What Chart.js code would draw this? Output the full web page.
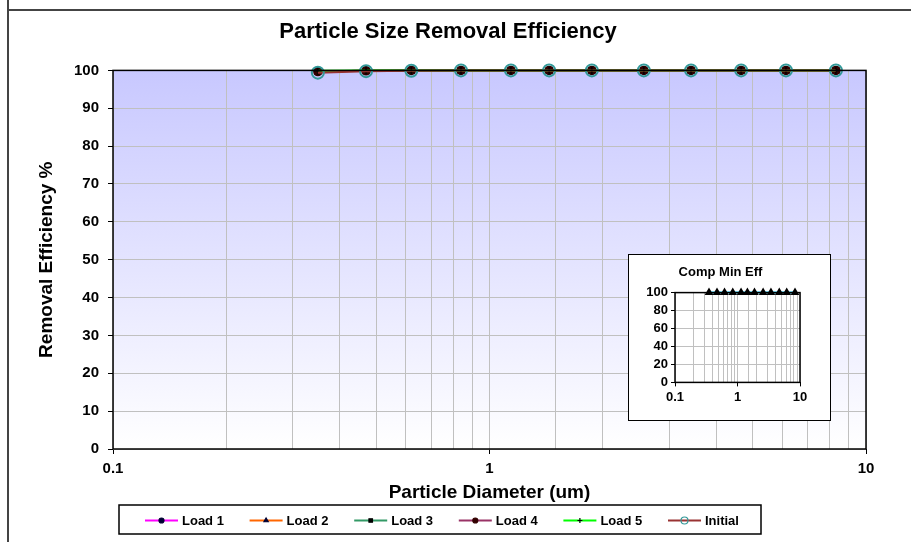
<!DOCTYPE html>
<html>
<head>
<meta charset="utf-8">
<script src="https://cdn.jsdelivr.net/npm/chart.js@4.4.1/dist/chart.umd.min.js"></script>
<style>
  body { margin: 0; background: #fff; }
  #wrap { position: relative; width: 911px; height: 542px; }
  #inset { position: absolute; left: 628px; top: 254px; width: 203px; height: 167px;
           background: #fff; border: 1.5px solid #000; box-sizing: border-box; }
</style>
</head>
<body>
<div id="wrap">
  <canvas id="main" width="911" height="542"></canvas>
  <div id="inset"><canvas id="mini" width="200" height="164"></canvas></div>
</div>
<script>
const DIAMETERS = [0.35, 0.47, 0.62, 0.84, 1.14, 1.44, 1.87, 2.57, 3.43, 4.66, 6.13, 8.32];
const SERIES_NAMES = ["Load 1", "Load 2", "Load 3", "Load 4", "Load 5", "Initial"];
const LOAD1 = [99.7, 99.9, 100, 100, 100, 100, 100, 100, 100, 100, 100, 100];
const LOAD2 = [99.7, 99.9, 100, 100, 100, 100, 100, 100, 100, 100, 100, 100];
const LOAD3 = [99.8, 99.9, 100, 100, 100, 100, 100, 100, 100, 100, 100, 100];
const LOAD4 = [99.7, 99.9, 100, 100, 100, 100, 100, 100, 100, 100, 100, 100];
const LOAD5 = [99.9, 100, 100, 100, 100, 100, 100, 100, 100, 100, 100, 100];
const INITIAL = [99.4, 99.8, 99.9, 100, 100, 100, 100, 100, 100, 100, 100, 100];
const COMP_MIN = [100, 100, 100, 100, 100, 100, 100, 100, 100, 100, 100, 100];
const X_LABELS = [0.1, 1, 10];

const FONT = "'Liberation Sans', Arial, sans-serif";
const pts = arr => arr.map((v, i) => ({ x: DIAMETERS[i], y: v }));
const isMajor = v => X_LABELS.some(t => Math.abs(t - v) < 1e-9);

const styles = [
  { line: "#ff00ff", marker: "circle", mColor: "#000033", r: 3 },
  { line: "#ff6600", marker: "triangle", mColor: "#000033", r: 3 },
  { line: "#339966", marker: "rect", mColor: "#000000", r: 4 },
  { line: "#993366", marker: "circle", mColor: "#330000", r: 4 },
  { line: "#00ff00", marker: "cross", mColor: "#000000", r: 4 },
  { line: "#993333", marker: "circle", mColor: "#339999", r: 6, open: true }
];
const seriesData = [LOAD1, LOAD2, LOAD3, LOAD4, LOAD5, INITIAL];

const datasets = seriesData.map((d, i) => ({
  label: SERIES_NAMES[i],
  data: pts(d),
  borderColor: styles[i].line,
  borderWidth: 2,
  pointStyle: styles[i].marker,
  pointRadius: styles[i].r,
  pointBackgroundColor: styles[i].open ? "rgba(0,0,0,0)" : styles[i].mColor,
  pointBorderColor: styles[i].mColor,
  pointBorderWidth: styles[i].open ? 2 : 1.5,
  clip: false,
  order: 6 - i
}));

// frame, gradient background and plot border
const decor = {
  id: "decor",
  beforeDraw(chart) {
    const { ctx, chartArea: a } = chart;
    ctx.save();
    ctx.fillStyle = "#fff";
    ctx.fillRect(0, 0, chart.width, chart.height);
    ctx.strokeStyle = "#444";
    ctx.lineWidth = 2;
    ctx.beginPath();
    ctx.moveTo(8, 0); ctx.lineTo(8, chart.height);
    ctx.moveTo(8, 10); ctx.lineTo(chart.width, 10);
    ctx.stroke();
    const g = ctx.createLinearGradient(0, a.top, 0, a.bottom);
    g.addColorStop(0, "#c8c8ff");
    g.addColorStop(1, "#ffffff");
    ctx.fillStyle = g;
    ctx.fillRect(a.left, a.top, a.right - a.left, a.bottom - a.top);
    ctx.restore();
  },
  afterDatasetsDraw(chart) {
    const { ctx, chartArea: a } = chart;
    ctx.save();
    ctx.strokeStyle = "#000";
    ctx.lineWidth = 1.5;
    ctx.strokeRect(a.left, a.top, a.right - a.left, a.bottom - a.top);
    ctx.restore();
  }
};

// legend with line + marker inside a box
const boxLegend = {
  id: "boxLegend",
  afterDraw(chart) {
    const { ctx } = chart;
    const bx = 119, by = 505, bw = 642, bh = 29;
    const y = by + bh / 2 + 1;
    ctx.save();
    ctx.strokeStyle = "#000";
    ctx.lineWidth = 1.5;
    ctx.strokeRect(bx, by, bw, bh);
    ctx.font = "bold 13px " + FONT;
    ctx.textBaseline = "middle";
    chart.data.datasets.forEach((ds, i) => {
      const st = styles[i];
      const x = 145 + i * 104.6;
      ctx.strokeStyle = ds.borderColor;
      ctx.lineWidth = 2;
      ctx.beginPath(); ctx.moveTo(x, y); ctx.lineTo(x + 33, y); ctx.stroke();
      ctx.save();
      ctx.fillStyle = st.open ? "rgba(0,0,0,0)" : st.mColor;
      ctx.strokeStyle = st.mColor;
      ctx.lineWidth = 1.2;
      Chart.helpers.drawPoint(ctx, { pointStyle: st.marker, radius: st.open ? 3.5 : 2.5, borderWidth: 1.2 }, x + 16.5, y);
      ctx.restore();
      ctx.fillStyle = "#000";
      ctx.fillText(ds.label, x + 37, y + 1);
    });
    ctx.restore();
  }
};

new Chart(document.getElementById("main"), {
  type: "line",
  data: { datasets },
  plugins: [decor, boxLegend],
  options: {
    responsive: false,
    animation: false,
    layout: { padding: { left: 30, right: 45, top: 0, bottom: 38 } },
    plugins: {
      legend: { display: false },
      tooltip: { enabled: false },
      title: {
        display: true, text: "Particle Size Removal Efficiency", color: "#000",
        font: { family: FONT, size: 22, weight: "bold" }, padding: { top: 19, bottom: 25 }
      }
    },
    scales: {
      x: {
        type: "logarithmic", min: 0.1, max: 10,
        afterFit: s => { s.height = 55; },
        grid: {
          color: "#c0c0c0", lineWidth: 1, tickLength: 5,
          tickColor: c => isMajor(c.tick.value) ? "#000" : "rgba(0,0,0,0)"
        },
        border: { display: false },
        ticks: {
          color: "#000", font: { family: FONT, size: 15, weight: "bold" }, maxRotation: 0,
          autoSkip: false, padding: 6,
          callback: v => isMajor(v) ? String(v) : ""
        },
        title: {
          display: true, text: "Particle Diameter (um)", color: "#000",
          font: { family: FONT, size: 19, weight: "bold" }, padding: { top: 0, bottom: 0 }
        }
      },
      y: {
        min: 0, max: 100,
        afterFit: s => { s.width = 83; },
        grid: { color: "#c0c0c0", tickLength: 5, tickColor: "#000" },
        border: { display: false },
        ticks: {
          stepSize: 10, color: "#000", padding: 9, autoSkip: false,
          font: { family: FONT, size: 15, weight: "bold" }
        },
        title: {
          display: true, text: "Removal Efficiency %", color: "#000",
          font: { family: FONT, size: 19, weight: "bold" }, padding: { top: 5, bottom: 0 }
        }
      }
    }
  }
});

const miniBorder = {
  id: "miniBorder",
  afterDatasetsDraw(chart) {
    const { ctx, chartArea: a } = chart;
    ctx.save();
    ctx.strokeStyle = "#000";
    ctx.lineWidth = 1.5;
    ctx.strokeRect(a.left, a.top, a.right - a.left, a.bottom - a.top);
    ctx.restore();
  }
};

new Chart(document.getElementById("mini"), {
  type: "line",
  data: {
    datasets: [{
      label: "Comp Min Eff",
      data: pts(COMP_MIN),
      borderColor: "#00ccff", borderWidth: 2,
      pointStyle: "triangle", pointRadius: 3,
      pointBackgroundColor: "#000", pointBorderColor: "#000",
      clip: false
    }]
  },
  plugins: [miniBorder],
  options: {
    responsive: false,
    animation: false,
    layout: { padding: { left: 12, right: 29, top: 0, bottom: 11 } },
    plugins: {
      legend: { display: false },
      tooltip: { enabled: false },
      title: {
        display: true, text: "Comp Min Eff", color: "#000",
        font: { family: FONT, size: 13, weight: "bold" }, padding: { top: 10, bottom: 12 }
      }
    },
    scales: {
      x: {
        type: "logarithmic", min: 0.1, max: 10,
        grid: {
          color: "#c0c0c0", tickLength: 4,
          tickColor: c => isMajor(c.tick.value) ? "#000" : "rgba(0,0,0,0)"
        },
        border: { display: false },
        ticks: {
          color: "#000", font: { family: FONT, size: 13, weight: "bold" }, maxRotation: 0,
          autoSkip: false, padding: 3,
          callback: v => isMajor(v) ? String(v) : ""
        }
      },
      y: {
        min: 0, max: 100,
        afterFit: s => { s.width = 34; },
        grid: { color: "#c0c0c0", tickLength: 4, tickColor: "#000" },
        border: { display: false },
        ticks: {
          stepSize: 20, color: "#000", padding: 3, autoSkip: false,
          font: { family: FONT, size: 13, weight: "bold" }
        }
      }
    }
  }
});
</script>
</body>
</html>
